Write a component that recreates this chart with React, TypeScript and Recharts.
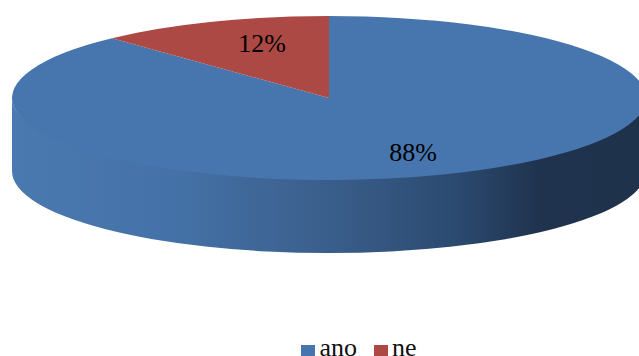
import { PieChart, Pie, Cell, Legend } from "recharts";

const categories = ["ano", "ne"];
const shares = [88, 12];
const sliceColors = ["#4776ae", "#ad4945"];

const data = categories.map((name, i) => ({ name, value: shares[i] }));

// the pie is squashed to an ellipse and given a rim to look tilted
const SQUASH = 82 / 317;
const DEPTH = 73;
const RAD = Math.PI / 180;
const FONT = "'Liberation Serif', 'Times New Roman', serif";

const pointAt = (cx: number, cy: number, r: number, angle: number) => ({
  x: cx + r * Math.cos(-angle * RAD),
  y: cy + r * SQUASH * Math.sin(-angle * RAD),
});

const TiltedSlice = (props: any) => {
  const { cx, cy, outerRadius: r, startAngle, endAngle, fill } = props;
  const ry = r * SQUASH;
  const from = pointAt(cx, cy, r, startAngle);
  const to = pointAt(cx, cy, r, endAngle);
  const large = Math.abs(startAngle - endAngle) > 180 ? 1 : 0;

  // only the part of the arc on the front half has a visible rim
  const rimStart = Math.min(startAngle, 0);
  const rimEnd = Math.max(endAngle, -180);
  let rim = null;
  if (rimStart > rimEnd) {
    const a = pointAt(cx, cy, r, rimStart);
    const b = pointAt(cx, cy, r, rimEnd);
    // upper arc is a bit flatter so the rim tucks under the top face, no seam
    rim = (
      <path
        fill="url(#rimShade)"
        d={`M${a.x},${a.y} A${r},${ry - 3} 0 0 1 ${b.x},${b.y} L${b.x},${b.y + DEPTH} A${r},${ry} 0 0 0 ${a.x},${a.y + DEPTH} Z`}
      />
    );
  }

  return (
    <g>
      {rim}
      <path
        fill={fill}
        d={`M${cx},${cy} L${from.x},${from.y} A${r},${ry} 0 ${large} 1 ${to.x},${to.y} Z`}
      />
    </g>
  );
};

const PercentLabel = (props: any) => {
  const { cx, cy, outerRadius, midAngle, value, index } = props;
  const p = pointAt(cx, cy, outerRadius * 0.72, midAngle);
  return (
    <text
      x={p.x + (index === 1 ? 17 : 0)}
      y={p.y}
      fill="#000"
      fontFamily={FONT}
      fontSize={26}
      textAnchor="middle"
      dominantBaseline="central"
    >
      {`${value}%`}
    </text>
  );
};

const App = () => {
  return (
    <div style={{ width: 639, height: 356, background: "#fff", overflow: "hidden" }}>
      <style>{"body { margin: 0; }"}</style>
      <PieChart width={639} height={356} margin={{ top: 0, right: 0, bottom: 0, left: 0 }}>
        <defs>
          <linearGradient id="rimShade" gradientUnits="userSpaceOnUse" x1={12} y1={0} x2={646} y2={0}>
            <stop offset="0%" stopColor="#4a79b0" />
            <stop offset="25%" stopColor="#4472a8" />
            <stop offset="50%" stopColor="#3a5e8b" />
            <stop offset="70%" stopColor="#2b4a70" />
            <stop offset="83%" stopColor="#1f334e" />
            <stop offset="100%" stopColor="#1f324c" />
          </linearGradient>
        </defs>
        <Pie
          data={data}
          dataKey="value"
          nameKey="name"
          cx={329}
          cy={98}
          outerRadius={317}
          startAngle={90}
          endAngle={-270}
          stroke="none"
          shape={TiltedSlice}
          label={PercentLabel}
          labelLine={false}
          isAnimationActive={false}
        >
          {data.map((entry, index) => (
            <Cell key={`cell-${index}`} fill={sliceColors[index]} />
          ))}
        </Pie>
        <Legend
          iconType="square"
          iconSize={14}
          verticalAlign="bottom"
          formatter={(value: string) => (
            <span style={{ color: "#111", fontFamily: FONT, fontSize: 26, lineHeight: "26px", paddingRight: 7 }}>
              {value}
            </span>
          )}
          wrapperStyle={{ left: 0, bottom: -5, width: 735 }}
        />
      </PieChart>
    </div>
  );
};

export default App;
